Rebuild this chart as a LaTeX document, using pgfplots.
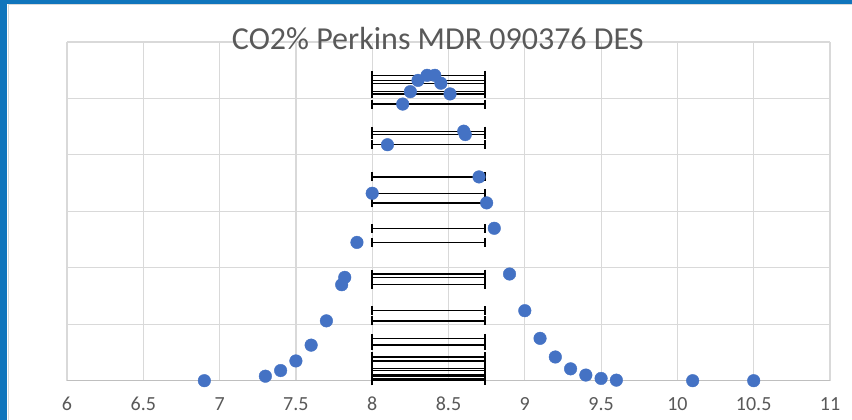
\documentclass[border=0pt]{standalone}
\usepackage{pgfplots}
\pgfplotsset{compat=1.18}
\usepackage{fontspec}
\setmainfont{Carlito}
\definecolor{dotblue}{HTML}{4472C4}
\definecolor{txtgray}{HTML}{595959}
\definecolor{gridgray}{HTML}{D9D9D9}
\definecolor{axisgray}{HTML}{BFBFBF}
\definecolor{selblue}{RGB}{16,117,188}

\begin{document}
\begin{tikzpicture}
\useasboundingbox (0,0) rectangle (852pt,420pt);
\fill[white] (0,0) rectangle (852pt,420pt);
% selection frame of the chart
\fill[selblue] (0,0) rectangle (7pt,420pt);
\fill[selblue] (0,416pt) rectangle (852pt,420pt);
\draw[gridgray, line width=1pt] (8.5pt,0) -- (8.5pt,415.5pt) -- (852pt,415.5pt);

\begin{axis}[
  at={(67pt,39.3pt)}, anchor=south west,
  scale only axis, width=763pt, height=338.7pt,
  xmin=6, xmax=11, ymin=0, ymax=6,
  xtick={6,6.5,...,11}, ytick={0,1,...,6}, yticklabels={},
  grid=major, grid style={gridgray, line width=1.2pt},
  extra y ticks={0}, extra y tick labels={},
  extra y tick style={grid style={axisgray, line width=1.6pt}},
  axis line style={draw=none},
  major tick length=0pt,
  tick label style={font=\fontsize{20}{24}\selectfont, text=txtgray},
  /pgf/number format/assume math mode=true,
  xticklabel style={yshift=-13pt},
  clip=false,
  title={CO2\% Perkins MDR 090376 DES},
  title style={font=\fontsize{32}{38}\selectfont, text=txtgray,
    at={(0.486,0.9616)}, anchor=base},
]
% horizontal error bars (drawn behind the points)
\addplot[draw=none, mark=none,
  every mark/.append style={line width=2.2pt},
  error bars/.cd, x dir=both, x fixed=0.37, error mark=|,
  error bar style={draw=black, solid, line width=1.3pt},
  error mark options={draw=black, solid, line width=2.2pt, mark size=4.5pt}]
coordinates {
(8.37,0) (8.37,0.08) (8.37,0.18) (8.37,0.35) (8.37,0.63) (8.37,1.06)
(8.37,1.70) (8.37,1.83) (8.37,2.45) (8.37,3.32) (8.37,4.18) (8.37,4.90)
(8.37,5.12) (8.37,5.32) (8.37,5.41) (8.37,5.41) (8.37,5.27) (8.37,5.08)
(8.37,4.42) (8.37,4.36) (8.37,3.61) (8.37,3.15) (8.37,2.70) (8.37,1.89)
(8.37,1.24) (8.37,0.75) (8.37,0.42) (8.37,0.21) (8.37,0.10) (8.37,0.04)
(8.37,0.01) (8.37,0) (8.37,0)
};
% data points
\addplot[only marks, mark=*, mark size=6.3pt,
  mark options={draw=dotblue, fill=dotblue}]
coordinates {
(6.9,0) (7.3,0.08) (7.4,0.18) (7.5,0.35) (7.6,0.63) (7.7,1.06)
(7.8,1.70) (7.82,1.83) (7.9,2.45) (8.0,3.32) (8.1,4.18) (8.2,4.90)
(8.25,5.12) (8.3,5.32) (8.36,5.41) (8.41,5.41) (8.45,5.27) (8.51,5.08)
(8.6,4.42) (8.61,4.36) (8.7,3.61) (8.75,3.15) (8.8,2.70) (8.9,1.89)
(9.0,1.24) (9.1,0.75) (9.2,0.42) (9.3,0.21) (9.4,0.10) (9.5,0.04)
(9.6,0.01) (10.1,0) (10.5,0)
};
\end{axis}
\end{tikzpicture}
\end{document}
